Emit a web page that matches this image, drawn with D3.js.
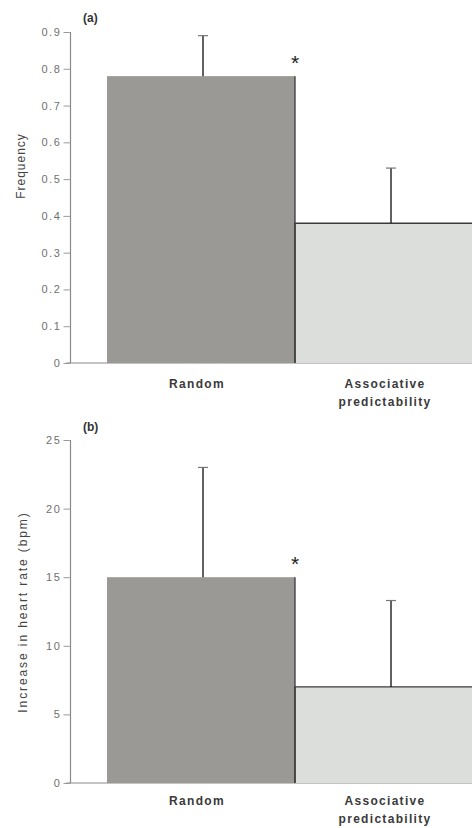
<!DOCTYPE html>
<html>
<head>
<meta charset="utf-8">
<script src="https://cdn.jsdelivr.net/npm/d3@7"></script>
<style>
  html, body { margin: 0; padding: 0; background: #fff; }
  svg { display: block; }
  text { font-family: "Liberation Sans", Arial, sans-serif; }
</style>
</head>
<body>
<svg id="chart" width="472" height="828"></svg>
<script>
// ---- data ----
const categories = ["Random", "Associative predictability"];
const categoryLines = [["Random"], ["Associative", "predictability"]];

const freqMeans = [0.78, 0.38];
const freqErrors = [0.11, 0.15];
const freqTicks = [0, 0.1, 0.2, 0.3, 0.4, 0.5, 0.6, 0.7, 0.8, 0.9];

const hrMeans = [15.0, 7.0];
const hrErrors = [8.0, 6.3];
const hrTicks = [0, 5, 10, 15, 20, 25];

const significant = [true, false];

// ---- drawing ----
const svg = d3.select("#chart");
const barFills = ["#9a9995", "#dcdedb"];

const x = d3.scaleBand().domain(categories).range([107, 483]).paddingInner(0).paddingOuter(0);

function panel(opts) {
  const { means, errors, ticks, domain, yRange, letter, letterY, title, titleY, labelY, tickFmt } = opts;
  const y = d3.scaleLinear().domain(domain).range(yRange);
  const g = svg.append("g");

  // baseline
  g.append("line")
    .attr("x1", 66).attr("x2", 472)
    .attr("y1", y(0)).attr("y2", y(0))
    .attr("stroke", "#8a8a8a").attr("stroke-width", 1.2);

  // y axis
  const axis = d3.axisLeft(y).tickValues(ticks).tickSize(7).tickPadding(3).tickFormat(tickFmt);
  const ax = g.append("g").attr("transform", "translate(70.5,0)").call(axis);
  ax.select(".domain").attr("stroke", "#8a8a8a").attr("stroke-width", 1.2)
    .attr("d", `M0,${y(0)}V${y(domain[1])}`);
  ax.selectAll(".tick line").attr("stroke", "#9a9a9a");
  ax.selectAll(".tick text")
    .attr("fill", "#707070")
    .style("font-size", "11px")
    .style("letter-spacing", "1.6px")
    .attr("x", -9);

  // bars
  g.selectAll("rect.bar").data(categories).enter().append("rect")
    .attr("class", "bar")
    .attr("x", d => x(d))
    .attr("width", x.bandwidth())
    .attr("y", (d, i) => y(means[i]))
    .attr("height", (d, i) => y(0) - y(means[i]))
    .attr("fill", (d, i) => barFills[i]);

  // outlines: dark top of second bar and shared edge
  g.selectAll("path.outline").data(categories).enter().append("path")
    .attr("class", "outline")
    .attr("d", (d, i) => i === 0
      ? `M${x(d) + x.bandwidth()},${y(0)}V${y(means[i])}`
      : `M${x(d)},${y(0)}V${y(means[i])}H${x(d) + x.bandwidth()}`)
    .attr("fill", "none")
    .attr("stroke", "#3a3a3a")
    .attr("stroke-width", 1.3);

  // error bars
  g.selectAll("line.err").data(categories).enter().append("line")
    .attr("class", "err")
    .attr("x1", d => x(d) + x.bandwidth() / 2 + 2)
    .attr("x2", d => x(d) + x.bandwidth() / 2 + 2)
    .attr("y1", (d, i) => y(means[i]))
    .attr("y2", (d, i) => y(means[i] + errors[i]))
    .attr("stroke", "#1e1e1e").attr("stroke-width", 1.4);
  g.selectAll("line.cap").data(categories).enter().append("line")
    .attr("class", "cap")
    .attr("x1", d => x(d) + x.bandwidth() / 2 - 3)
    .attr("x2", d => x(d) + x.bandwidth() / 2 + 7)
    .attr("y1", (d, i) => y(means[i] + errors[i]))
    .attr("y2", (d, i) => y(means[i] + errors[i]))
    .attr("stroke", "#777").attr("stroke-width", 1.2);

  // significance asterisk
  g.selectAll("text.star").data(categories.filter((d, i) => significant[i])).enter().append("text")
    .attr("class", "star")
    .attr("x", d => x(d) + x.bandwidth())
    .attr("y", d => y(means[categories.indexOf(d)]) - 6)
    .attr("text-anchor", "middle")
    .attr("fill", "#222")
    .style("font-size", "21px")
    .text("*");

  // category labels
  categories.forEach((c, i) => {
    const t = g.append("text")
      .attr("x", x(c) + x.bandwidth() / 2 - 4)
      .attr("y", labelY)
      .attr("text-anchor", "middle")
      .attr("fill", "#3a3a3a")
      .style("font-size", "12px")
      .style("font-weight", "bold")
      .style("letter-spacing", "1.3px");
    categoryLines[i].forEach((line, j) => {
      t.append("tspan").attr("x", x(c) + x.bandwidth() / 2 - 4).attr("dy", j === 0 ? 0 : 18).text(line);
    });
  });

  // panel letter
  g.append("text")
    .attr("x", 83).attr("y", letterY)
    .attr("fill", "#333")
    .style("font-size", "12px")
    .style("font-weight", "bold")
    .text(letter);

  // y title
  g.append("text")
    .attr("transform", `translate(${opts.titleX},${titleY}) rotate(-90)`)
    .attr("text-anchor", "middle")
    .attr("fill", "#444")
    .style("font-size", "12px")
    .style("letter-spacing", opts.titleSpacing)
    .text(title);
}

panel({
  means: freqMeans, errors: freqErrors, ticks: freqTicks,
  domain: [0, 0.9], yRange: [363, 32],
  letter: "(a)", letterY: 22,
  title: "Frequency", titleX: 25, titleY: 166, titleSpacing: "1px",
  labelY: 388,
  tickFmt: d => d === 0 ? "0" : d3.format(".1f")(d)
});

panel({
  means: hrMeans, errors: hrErrors, ticks: hrTicks,
  domain: [0, 25], yRange: [783, 440],
  letter: "(b)", letterY: 431,
  title: "Increase in heart rate (bpm)", titleX: 27, titleY: 612, titleSpacing: "1.9px",
  labelY: 805,
  tickFmt: d3.format("d")
});
</script>
</body>
</html>
